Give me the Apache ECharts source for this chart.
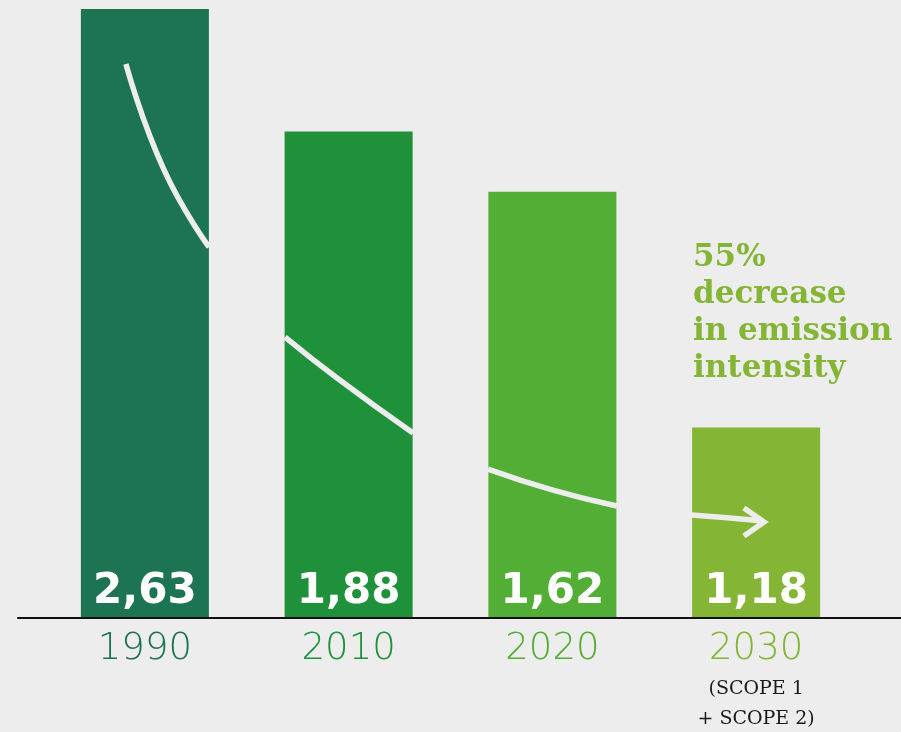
<!DOCTYPE html>
<html><head><meta charset="utf-8">
<script src="https://cdn.jsdelivr.net/npm/echarts@6/dist/echarts.min.js"></script>
<style>html,body{margin:0;padding:0;background:#ededed;}#c{width:901px;height:732px;}</style>
</head><body><div id="c"></div>
<script>
// Categories and displayed values
const years = ['1990', '2010', '2020', '2030'];
const valueLabels = ['2,63', '1,88', '1,62', '1,18'];
// Bar heights as drawn in the picture (same scale as 2,63 for the first bar)
const barHeights = [2.63, 2.10, 1.84, 0.82];
const colors = ['#1d7452', '#1e913a', '#52ae34', '#84b534'];
// Decorative trend arrow, visible pieces per bar, in data units (x: category index, y: bar-height units)
const trendX = [[-0.093, 0.094, 0.315], [0.688, 0.943, 1.316], [1.684, 2.003, 2.317], [2.685, 2.872, 3.034]];
const trendY = [[2.392, 1.934, 1.600], [1.211, 1.034, 0.796], [0.640, 0.549, 0.480], [0.441, 0.428, 0.415]];
const arrowX = [2.940, 3.039, 2.940];
const arrowY = [0.472, 0.411, 0.350];
const note = ['55%', 'decrease', 'in emission', 'intensity'];
const subNote = ['(SCOPE 1', '+ SCOPE 2)'];

const chart = echarts.init(document.getElementById('c'), null, {renderer: 'canvas'});
const rich = {
  s1: {fontFamily: 'DejaVu Serif', fontSize: 19, color: '#1a1a1a', lineHeight: 44},
  s2: {fontFamily: 'DejaVu Serif', fontSize: 19, color: '#1a1a1a', lineHeight: 16}
};
colors.forEach((c, i) => {
  rich['y' + i] = {color: c, fontFamily: 'DejaVu Sans', fontWeight: 200, fontSize: 37, lineHeight: 36};
});

const trendSeries = trendX.map((xs, s) => ({
  type: 'line', xAxisIndex: 1, yAxisIndex: 0, smooth: 0.5, symbol: 'none',
  data: xs.map((x, i) => [x, trendY[s][i]]),
  lineStyle: {color: '#ededed', width: 5.5, cap: 'butt'}, z: 5, silent: true
}));

chart.setOption({
  backgroundColor: '#ededed',
  animation: false,
  title: {
    text: note.join('\n'),
    left: 693, top: 239, padding: 0,
    textStyle: {color: '#84b534', fontFamily: 'DejaVu Serif', fontWeight: 'bold', fontSize: 31, lineHeight: 37}
  },
  grid: [
    {left: 43, right: 43, top: 9, bottom: 115},
    {left: 18, right: 0, top: 9, bottom: 114}
  ],
  xAxis: [
    {
      type: 'category', gridIndex: 0, data: years,
      axisLine: {show: false}, axisTick: {show: false},
      axisLabel: {
        margin: 14, interval: 0,
        formatter: (v, i) => i === 3
          ? '{y3|' + v + '}\n{s1|' + subNote[0] + '}\n{s2|' + subNote[1] + '}'
          : '{y' + i + '|' + v + '}',
        rich: rich
      }
    },
    {type: 'value', gridIndex: 0, min: -0.5, max: 3.5, show: false},
    {
      type: 'value', gridIndex: 1, min: 0, max: 1,
      axisLine: {show: true, onZero: false, lineStyle: {color: '#111', width: 2}},
      axisTick: {show: false}, axisLabel: {show: false}, splitLine: {show: false}
    }
  ],
  yAxis: [
    {type: 'value', gridIndex: 0, min: 0, max: 2.63, show: false},
    {type: 'value', gridIndex: 1, min: 0, max: 1, show: false}
  ],
  series: [
    {
      type: 'bar', xAxisIndex: 0, yAxisIndex: 0, barWidth: 128,
      data: barHeights.map((v, i) => ({value: v, itemStyle: {color: colors[i]}})),
      label: {
        show: true, position: 'insideBottom', distance: 4,
        formatter: p => valueLabels[p.dataIndex],
        color: '#ffffff', fontFamily: 'DejaVu Sans', fontWeight: 'bold', fontSize: 42
      },
      z: 2
    }
  ].concat(trendSeries, [
    {
      type: 'line', xAxisIndex: 1, yAxisIndex: 0, symbol: 'none',
      data: arrowX.map((x, i) => [x, arrowY[i]]),
      lineStyle: {color: '#ededed', width: 5.5, join: 'miter'}, z: 5, silent: true
    }
  ])
});
</script></body></html>
